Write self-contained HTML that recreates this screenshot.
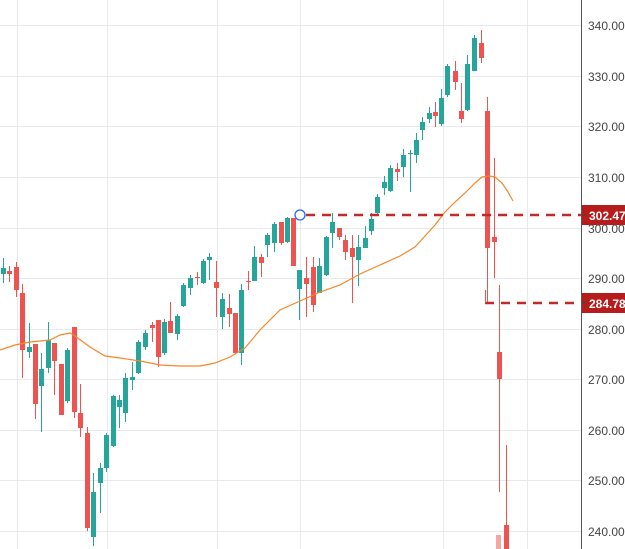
<!DOCTYPE html>
<html><head><meta charset="utf-8"><style>
html,body{margin:0;padding:0;background:#fff;width:625px;height:549px;overflow:hidden}
svg{display:block}
text{font-family:"Liberation Sans",sans-serif}
</style></head><body>
<svg id="s" width="625" height="549" viewBox="0 0 625 549">
<g stroke="#e6e9ee" stroke-width="1">
<line x1="0" y1="25.5" x2="581" y2="25.5"/><line x1="0" y1="76.5" x2="581" y2="76.5"/>
<line x1="0" y1="126.5" x2="581" y2="126.5"/><line x1="0" y1="177.5" x2="581" y2="177.5"/>
<line x1="0" y1="228.5" x2="581" y2="228.5"/><line x1="0" y1="278.5" x2="581" y2="278.5"/>
<line x1="0" y1="329.5" x2="581" y2="329.5"/><line x1="0" y1="379.5" x2="581" y2="379.5"/>
<line x1="0" y1="430.5" x2="581" y2="430.5"/><line x1="0" y1="480.5" x2="581" y2="480.5"/>
<line x1="0" y1="531.5" x2="581" y2="531.5"/>
<line x1="17.5" y1="0" x2="17.5" y2="549"/><line x1="107.5" y1="0" x2="107.5" y2="549"/>
<line x1="217.5" y1="0" x2="217.5" y2="549"/><line x1="300.5" y1="0" x2="300.5" y2="549"/>
<line x1="443.5" y1="0" x2="443.5" y2="549"/><line x1="527.5" y1="0" x2="527.5" y2="549"/>
</g>
<g id="c"></g>
<polyline fill="none" stroke="#f7862a" stroke-width="1.2" points="0,350 15,345 30,342 50,340 60,335 70,333 75,336 90,347 105,356 120,358 140,361 160,365 180,366 200,366 215,363 230,357 245,348 260,330 280,310 300,301 320,292 340,285 360,274 380,265 400,256 415,247 425,236 435,225 445,212 455,202 465,193 475,183 482,177 490,176 495,177 502,183 508,192 513,201"/>
<g stroke="#c62828" stroke-width="2.5" stroke-dasharray="9,7">
<line x1="306" y1="215" x2="581" y2="215"/>
<line x1="485" y1="303" x2="581" y2="303"/>
</g>
<line x1="485.5" y1="290" x2="485.5" y2="303" stroke="#ef5350" stroke-width="1"/>
<circle cx="300" cy="215" r="5" fill="#fff" stroke="#2962ff" stroke-width="1.3"/>
<line x1="581.5" y1="0" x2="581.5" y2="549" stroke="#555" stroke-width="1"/>
<g fill="#444" font-size="12">
<text x="588" y="30">340.00</text><text x="588" y="81">330.00</text>
<text x="588" y="131">320.00</text><text x="588" y="182">310.00</text>
<text x="588" y="233">300.00</text><text x="588" y="283">290.00</text>
<text x="588" y="334">280.00</text><text x="588" y="384">270.00</text>
<text x="588" y="435">260.00</text><text x="588" y="485">250.00</text>
<text x="588" y="536">240.00</text>
</g>
<rect x="582" y="205" width="43" height="20" fill="#b71c1c"/>
<rect x="582" y="293" width="43" height="20" fill="#b71c1c"/>
<g stroke="#444"><line x1="582" y1="215" x2="586" y2="215"/><line x1="582" y1="303" x2="586" y2="303"/></g>
<text x="589" y="220" fill="#fff" font-size="12" font-weight="bold">302.47</text>
<text x="589" y="308" fill="#fff" font-size="12" font-weight="bold">284.78</text>
</svg>
<script>
var G="#26a69a",R="#ef5350";
var d=[
[3,268,274,258,283,G],[9,271,274,266,282,R],[16,267,290,262,297,R],[22,293,350,284,378,R],
[29,347,352,323,358,G],[35,344,404,344,419,R],[41,369,386,353,432,G],[48,340,368,322,373,G],
[54,343,361,343,395,R],[61,364,415,364,415,R],[67,350,401,348,403,G],[74,327,412,327,418,R],
[80,413,428,384,437,R],[87,433,528,427,531,R],[93,492,537,473,546,G],[100,468,483,463,513,G],
[106,435,468,433,472,G],[113,396,446,395,447,G],[119,400,407,395,428,G],[125,378,413,373,422,G],
[132,377,380,362,390,G],[138,342,373,340,374,G],[145,333,347,330,350,G],[152,325,328,322,342,R],
[158,320,357,320,367,R],[164,322,353,319,355,G],[170,321,333,302,333,R],[177,316,334,314,340,G],
[183,285,306,283,307,G],[190,278,288,275,295,G],[197,277,278,272,285,R],
[203,261,283,259,284,G],[209,257,260,253,280,G],[216,282,288,261,317,R],[222,299,317,293,329,G],
[229,308,314,294,327,R],[235,313,353,313,353,R],[241,290,353,284,365,G],[248,281,282,271,290,R],
[254,257,281,246,281,G],[261,257,263,254,277,R],[267,235,245,233,257,G],[274,224,243,222,252,G],
[281,222,243,222,245,R],[287,218,242,217,243,G],[293,218,266,218,266,R],[299,270,289,270,320,G],
[306,278,284,257,317,R],[313,267,305,257,312,R],[319,266,293,258,293,G],[326,237,275,236,276,G],
[332,222,233,213,248,G],[339,228,237,228,240,R],[345,240,252,235,260,R],[352,248,257,235,303,R],
[358,247,260,235,286,G],[365,238,248,226,248,G],[371,219,231,213,235,G],[377,197,213,194,216,G],
[384,182,188,176,195,G],[390,168,191,165,192,G],[397,169,172,163,181,R],[403,155,167,149,177,G],
[410,153,154,150,192,G],[416,140,155,133,163,G],[422,122,130,117,140,G],[429,113,119,107,123,G],
[435,112,116,102,127,R],[441,98,124,89,126,G],[447,66,95,64,97,G],[455,71,82,61,90,R],
[461,111,119,83,123,R],[467,64,110,55,111,G],[474,38,71,35,71,G],[481,43,58,30,63,R],
[487,111,248,97,302,R],[494,237,242,158,278,R],[499,352,379,285,492,R],[506,525,549,445,549,R]];
var s="";
d.forEach(function(c){
s+='<line x1="'+(c[0]+.5)+'" y1="'+c[3]+'" x2="'+(c[0]+.5)+'" y2="'+c[4]+'" stroke="'+c[5]+'" stroke-width="1"/>';
s+='<rect x="'+(c[0]-2)+'" y="'+c[1]+'" width="5" height="'+Math.max(1,c[2]-c[1])+'" fill="'+c[5]+'"/>';
});
s+='<rect x="496" y="535" width="5" height="14" fill="#f4a5a4"/>';
document.getElementById("c").innerHTML=s;
</script>
</body></html>
